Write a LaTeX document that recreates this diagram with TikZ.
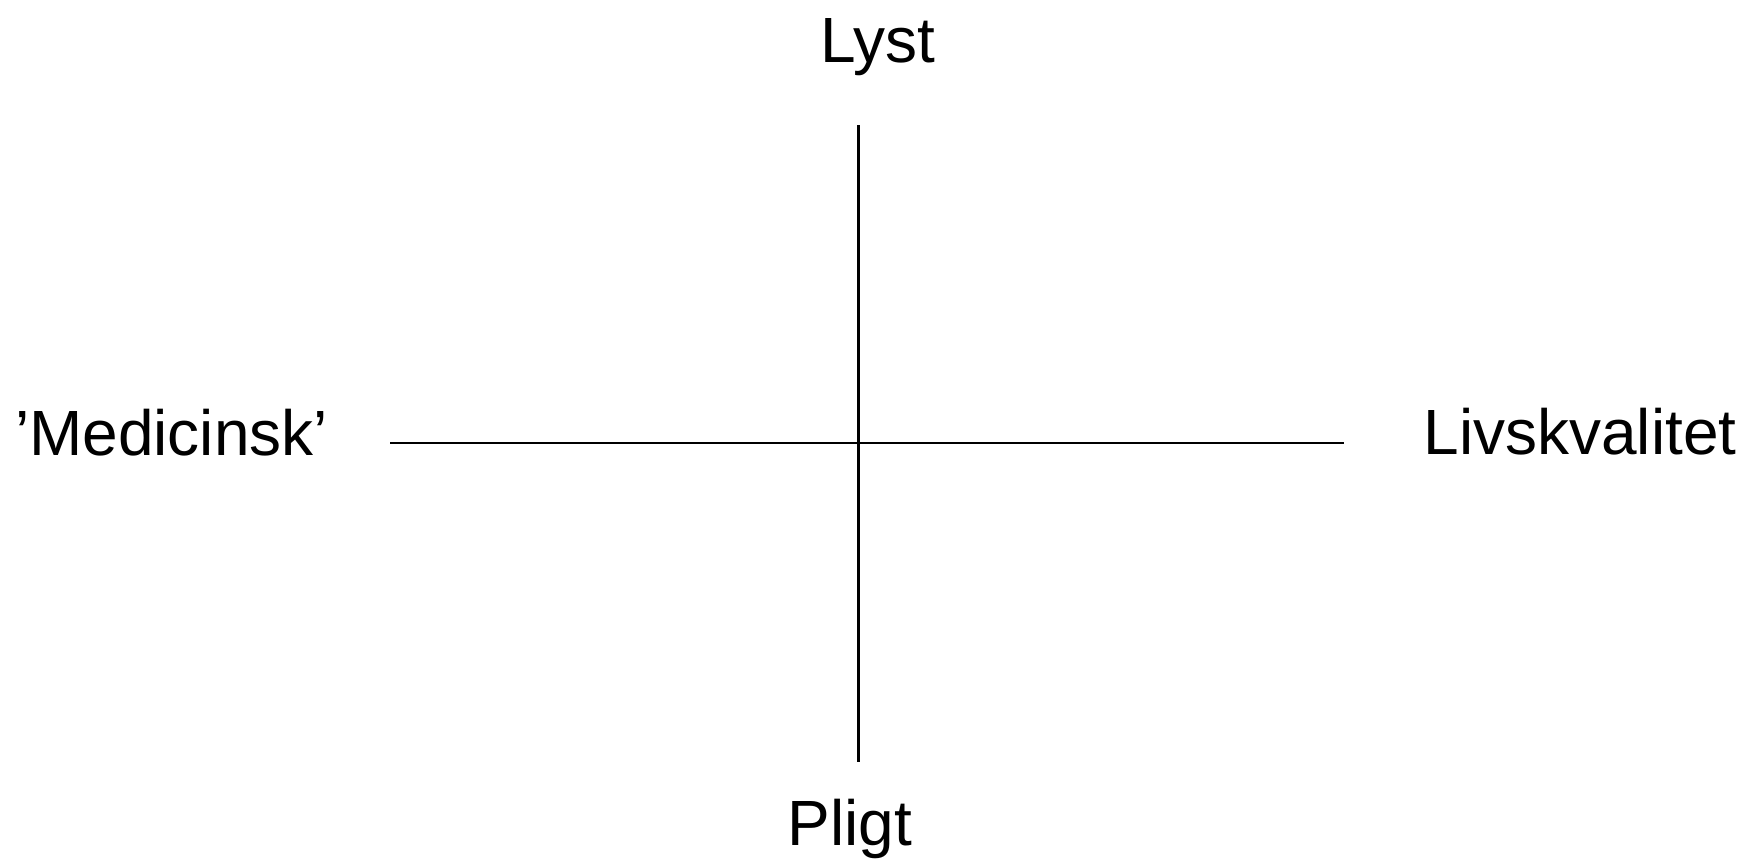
\documentclass[tikz,border=0pt]{standalone}
\usepackage{fontspec}
\setmainfont{Liberation Sans}
\usetikzlibrary{positioning}

\begin{document}
\begin{tikzpicture}[label/.style={anchor=base,inner sep=0pt,font=\fontsize{18.2}{22}\selectfont}]
\useasboundingbox (0,0) rectangle (17.46,8.62);
\coordinate (T) at (8.585,7.37);
\coordinate (B) at (8.585,1.00);
\coordinate (W) at (3.90,4.19);
\coordinate (E) at (13.44,4.19);
\draw[line width=0.6pt] (T)--(B);
\draw[line width=0.6pt] (W)--(E);
\node[label] (lyst) at (8.775,8.00) {Lyst};
\node[label] (pligt) at (8.50,0.17) {Pligt};
\node[label] (med) at (1.715,4.07) {'Medicinsk'};
\node[label] (liv) at (15.80,4.08) {Livskvalitet};
\end{tikzpicture}
\end{document}
